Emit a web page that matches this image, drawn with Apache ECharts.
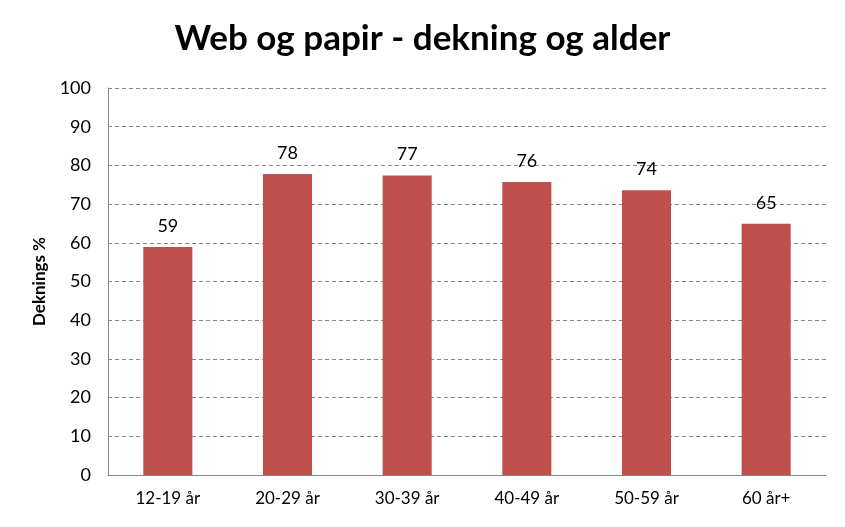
<!DOCTYPE html>
<html>
<head>
<meta charset="utf-8">
<script src="https://cdn.jsdelivr.net/npm/echarts@6/dist/echarts.min.js"></script>
<style>html,body{margin:0;padding:0;background:#fff}#c{width:845px;height:527px}</style>
</head>
<body>
<div id="c"></div>
<script>
const categories = ["12-19 år", "20-29 år", "30-39 år", "40-49 år", "50-59 år", "60 år+"];
const values = [58.9, 77.8, 77.4, 75.7, 73.6, 64.9];
const titleText = "Web og papir - dekning og alder";
const yAxisName = "Deknings %";

const chart = echarts.init(document.getElementById('c'), null, {renderer: 'canvas'});
const font = 'Lato, "Open Sans", sans-serif';
chart.setOption({
  animation: false,
  title: {
    text: titleText,
    left: 'center',
    top: 16,
    textStyle: {fontFamily: font, fontWeight: 'bold', fontSize: 35, color: '#000'}
  },
  grid: {left: 108, right: 19, top: 88, bottom: 52},
  xAxis: {
    type: 'category',
    data: categories,
    axisLine: {lineStyle: {color: '#868686'}},
    axisTick: {show: false},
    axisLabel: {fontFamily: font, fontSize: 17, color: '#000', margin: 15}
  },
  yAxis: {
    type: 'value',
    min: 0, max: 100, interval: 10,
    name: yAxisName,
    nameLocation: 'middle',
    nameGap: 60,
    nameTextStyle: {fontFamily: font, fontWeight: 'bold', fontSize: 17, color: '#000'},
    axisLine: {show: true, lineStyle: {color: '#868686'}},
    axisTick: {show: false},
    axisLabel: {fontFamily: font, fontSize: 18, color: '#000', margin: 17},
    splitLine: {lineStyle: {color: '#868686', type: [4, 3]}}
  },
  series: [{
    type: 'bar',
    data: values,
    barWidth: '41%',
    itemStyle: {color: '#C0504D'},
    label: {
      show: true,
      position: 'top',
      distance: 12,
      fontFamily: font,
      fontSize: 18,
      color: '#000',
      formatter: p => Math.round(p.value)
    }
  }]
});
</script>
</body>
</html>
